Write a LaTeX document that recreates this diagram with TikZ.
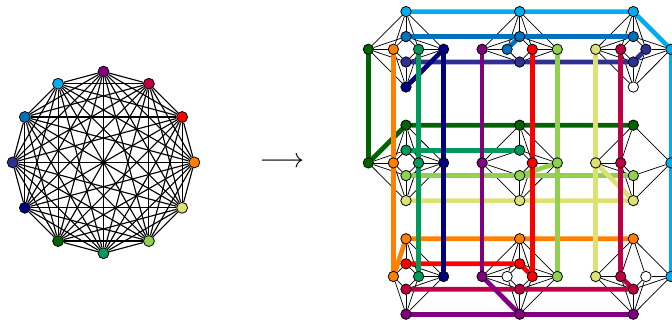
\documentclass[tikz,border=0pt]{standalone}
\pgfdeclarelayer{edges}
\pgfdeclarelayer{thick}
\pgfsetlayers{edges,thick,main}
\definecolor{ccyan}{HTML}{00AEEF}
\definecolor{cblue}{HTML}{0072BC}
\definecolor{cindigo}{HTML}{2E3192}
\definecolor{cnavy}{HTML}{00007F}
\definecolor{cdgreen}{HTML}{006400}
\definecolor{cgreen}{HTML}{009B5A}
\definecolor{clgreen}{HTML}{92D050}
\definecolor{cyellow}{HTML}{DCE173}
\definecolor{corange}{HTML}{FF8000}
\definecolor{cred}{HTML}{FF0000}
\definecolor{ccrimson}{HTML}{BE0046}
\definecolor{cpurple}{HTML}{800080}
\newcommand\gvat[5]{\node[gnode,fill=#3] (#1#2) at ([shift={(#4,#5)}]#1) {};}
\newcommand\gvpT[3]{\gvat{#1}{#3}{#2}{0}{-37.7}}
\newcommand\gvpU[3]{\gvat{#1}{#3}{#2}{0}{-12.7}}
\newcommand\gvpD[3]{\gvat{#1}{#3}{#2}{0}{12.7}}
\newcommand\gvpB[3]{\gvat{#1}{#3}{#2}{0}{37.7}}
\newcommand\gvpL[3]{\gvat{#1}{#3}{#2}{-37.6}{0}}
\newcommand\gvpI[3]{\gvat{#1}{#3}{#2}{-12.6}{0}}
\newcommand\gvpJ[3]{\gvat{#1}{#3}{#2}{12.6}{0}}
\newcommand\gvpR[3]{\gvat{#1}{#3}{#2}{37.6}{0}}
\newcommand\gv[3]{\csname gvp#2\endcsname{#1}{#3}{#2}}
\makeatletter
\newcommand\gedges[1]{%
  \foreach \a/\b in {T/L,L/B,B/R,R/T,U/I,I/D,D/J,J/U,T/U,T/I,T/J,B/D,B/I,B/J,L/I,L/U,L/D,R/J,R/U,R/D}{%
    \pgfutil@ifundefined{pgf@sh@ns@#1\a}{}{\pgfutil@ifundefined{pgf@sh@ns@#1\b}{}{\draw[gedge] (#1\a) -- (#1\b);}}%
  }}
\makeatother
\begin{document}
\begin{tikzpicture}[x=0.75pt,y=-0.75pt,
  gnode/.style={circle,draw=black,line width=0.6pt,minimum size=7.8pt,inner sep=0pt},
  knode/.style={circle,draw=black,line width=0.6pt,minimum size=8.2pt,inner sep=0pt},
  gedge/.style={draw=black,line width=0.55pt},
  kedge/.style={draw=black,line width=0.85pt},
  bset/.style={line width=3.5pt,line cap=round,line join=round}]
\useasboundingbox (0,0) rectangle (672,320);
% complete graph K12
\foreach \i/\c in {0/cpurple,1/ccrimson,2/cred,3/corange,4/cyellow,5/clgreen,6/cgreen,7/cdgreen,8/cnavy,9/cindigo,10/cblue,11/ccyan}
  \node[knode,fill=\c] (k\i) at ({103.5+90.8*cos(90-30*\i)},{162.4-90.8*sin(90-30*\i)}) {};
\begin{pgfonlayer}{edges}
\foreach \i in {0,...,10}{\pgfmathtruncatemacro\s{\i+1}\foreach \j in {\s,...,11}{\draw[kedge] (k\i) -- (k\j);}}
\end{pgfonlayer}
% arrow
\node[font=\fontsize{20}{24}\selectfont,inner sep=0pt] (arr) at (282,162) {$\longrightarrow$};
% gadget centres
\coordinate (g11) at (406,49.3);  \coordinate (g21) at (519.7,49.3);  \coordinate (g31) at (633.3,49.3);
\coordinate (g12) at (406,162.9); \coordinate (g22) at (519.7,162.9); \coordinate (g32) at (633.3,162.9);
\coordinate (g13) at (406,276.5); \coordinate (g23) at (519.7,276.5); \coordinate (g33) at (633.3,276.5);
% gadget vertices
\gv{g11}{T}{ccyan}\gv{g11}{U}{cblue}\gv{g11}{L}{cdgreen}\gv{g11}{I}{corange}\gv{g11}{J}{cgreen}\gv{g11}{R}{cnavy}\gv{g11}{D}{cindigo}\gv{g11}{B}{cnavy}
\gv{g21}{T}{ccyan}\gv{g21}{U}{cblue}\gv{g21}{L}{cpurple}\gv{g21}{I}{cblue}\gv{g21}{J}{cred}\gv{g21}{R}{clgreen}\gv{g21}{D}{cindigo}
\gv{g31}{T}{ccyan}\gv{g31}{U}{cblue}\gv{g31}{L}{cyellow}\gv{g31}{I}{ccrimson}\gv{g31}{J}{cindigo}\gv{g31}{R}{ccyan}\gv{g31}{D}{cindigo}\gv{g31}{B}{white}
\gv{g12}{T}{cdgreen}\gv{g12}{U}{cgreen}\gv{g12}{L}{cdgreen}\gv{g12}{I}{corange}\gv{g12}{J}{cgreen}\gv{g12}{R}{cnavy}\gv{g12}{D}{clgreen}\gv{g12}{B}{cyellow}
\gv{g22}{T}{cdgreen}\gv{g22}{U}{cgreen}\gv{g22}{L}{cpurple}\gv{g22}{J}{cred}\gv{g22}{R}{clgreen}\gv{g22}{D}{clgreen}\gv{g22}{B}{cyellow}
\gv{g32}{T}{cdgreen}\gv{g32}{L}{cyellow}\gv{g32}{I}{ccrimson}\gv{g32}{R}{ccyan}\gv{g32}{D}{clgreen}\gv{g32}{B}{cyellow}
\gv{g13}{T}{corange}\gv{g13}{U}{cred}\gv{g13}{I}{corange}\gv{g13}{J}{cgreen}\gv{g13}{R}{cnavy}\gv{g13}{D}{ccrimson}\gv{g13}{B}{cpurple}
\gv{g23}{T}{corange}\gv{g23}{U}{cred}\gv{g23}{L}{cpurple}\gv{g23}{I}{white}\gv{g23}{J}{cred}\gv{g23}{R}{clgreen}\gv{g23}{D}{ccrimson}\gv{g23}{B}{cpurple}
\gv{g33}{T}{corange}\gv{g33}{L}{cyellow}\gv{g33}{I}{ccrimson}\gv{g33}{J}{white}\gv{g33}{R}{ccyan}\gv{g33}{D}{ccrimson}\gv{g33}{B}{cpurple}
% thin gadget edges
\begin{pgfonlayer}{edges}
\foreach \g in {g11,g21,g31,g12,g22,g32,g13,g23,g33}{\gedges{\g}}
\end{pgfonlayer}
% branch sets
\begin{pgfonlayer}{thick}
\draw[bset,ccyan] (g11T) -- (g21T) -- (g31T) -- (g31R);
\draw[bset,cblue] (g11U) -- (g21U) -- (g31U);
\draw[bset,cblue] (g21I) -- (g21U);
\draw[bset,cindigo] (g11D) -- (g21D) -- (g31D) -- (g31J);
\draw[bset,cnavy] (g11B) -- (g11R);
\draw[bset,cdgreen] (g12L) -- (g12T) -- (g22T) -- (g32T);
\draw[bset,corange] (g13I) -- (g13T) -- (g23T) -- (g33T);
\draw[bset,cgreen] (g12U) -- (g22U);
\draw[bset,cred] (g13U) -- (g23U) -- (g23J);
\draw[bset,ccrimson] (g13D) -- (g23D) -- (g33D) -- (g33I);
\draw[bset,clgreen] (g12D) -- (g22D) -- (g32D);
\draw[bset,clgreen] (g22D) -- (g22R);
\draw[bset,cyellow] (g12B) -- (g22B) -- (g32B) -- (g32L);
\draw[bset,cpurple] (g13B) -- (g23B) -- (g33B);
\draw[bset,cpurple] (g23L) -- (g23B);
\draw[bset,ccyan] (g31R) -- (g32R) -- (g33R);
\draw[bset,cnavy] (g11R) -- (g12R) -- (g13R);
\draw[bset,cdgreen] (g11L) -- (g12L);
\draw[bset,corange] (g11I) -- (g12I) -- (g13I);
\draw[bset,cgreen] (g11J) -- (g12J) -- (g13J);
\draw[bset,cred] (g21J) -- (g22J) -- (g23J);
\draw[bset,cpurple] (g21L) -- (g22L) -- (g23L);
\draw[bset,ccrimson] (g31I) -- (g32I) -- (g33I);
\draw[bset,clgreen] (g21R) -- (g22R) -- (g23R);
\draw[bset,cyellow] (g31L) -- (g32L) -- (g33L);
\end{pgfonlayer}
\end{tikzpicture}
\end{document}
